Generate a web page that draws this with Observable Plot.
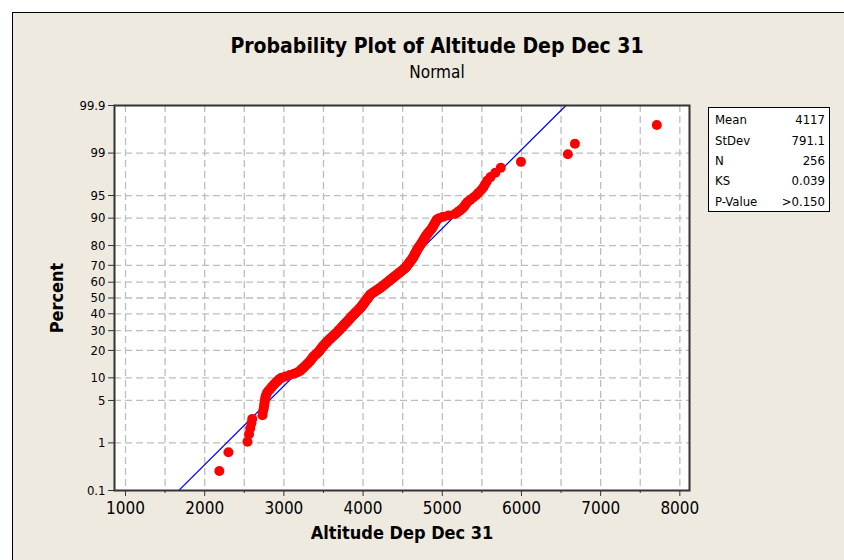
<!DOCTYPE html>
<html><head><meta charset="utf-8">
<script src="https://cdn.jsdelivr.net/npm/d3@7"></script>
<script src="https://cdn.jsdelivr.net/npm/@observablehq/plot@0.6"></script>
<style>
html,body{margin:0;padding:0;background:#fff;overflow:hidden;width:844px;height:560px;}
#bg{position:absolute;left:12px;top:12px;width:840px;height:560px;background:#EEEAE0;border-left:1.5px solid #000;border-top:1.5px solid #000;}
#chart{position:absolute;left:0;top:0;}
#stats{position:absolute;left:708px;top:107px;width:120px;height:103px;background:#fff;border:1px solid #000;font-family:"DejaVu Sans Condensed",sans-serif;font-size:13px;color:#000;}
#stats table{border-collapse:collapse;width:100%;margin-top:2px;}
#stats td{padding:0 4px 0 6px;height:20.4px;line-height:20px;}
#stats td.v{text-align:right;}
</style></head><body>
<div id="bg"></div>
<div id="chart"></div>
<div id="stats"></div>
<script>
// Sorted sample values (ranks 1..256)
const altitude = [
2185,2300,2540,2560,2575,2590,2600,2730,2735,2745,2750,2755,2760,2765,2770,2780,2790,2810,2830,2850,2865,2885,2905,2925,2943,2970,3021,3074,3126,3166,
3200,3215,3230,3245,3260,3274,3288,3302,3316,3330,
3339,3348,3357,3366,3375,3388,3401,3414,3427,3440,
3448,3456,3464,3472,3480,3489,3498,3507,3516,3525,
3535,3545,3555,3565,3575,3585,3595,3605,3615,3625,
3634,3644,3653,3663,3672,3681,3689,3698,3706,3715,
3722,3730,3737,3745,3752,3761,3769,3778,3786,3795,
3802,3810,3817,3825,3832,3838,3845,3852,3861,3869,
3877,3885,3893,3900,3908,3916,3924,3932,3940,3948,
3956,3963,3970,3976,3982,3988,3994,4000,4006,4011,
4017,4023,4029,4035,4040,4046,4052,4058,4064,4070,
4075,4081,4086,4092,4100,4112,4124,4135,4147,4159,
4171,4183,4194,4206,4217,4228,4238,4247,4257,4267,
4276,4286,4297,4307,4317,4327,4337,4347,4356,4366,
4376,4387,4397,4407,4417,4428,4438,4449,4458,4469,
4480,4491,4501,4511,4522,4533,4541,4547,4553,4560,
4566,4573,4580,4587,4593,4600,4607,4614,4621,4628,
4633,4638,4644,4649,4654,4660,4665,4670,4676,4681,
4687,4693,4700,4707,4714,4722,4729,4737,4744,4752,
4759,4766,4773,4780,4788,4795,4805,4814,4825,4836,
4847,4859,4870,4879,4886,4895,4904,4913,4922,4931,
4960,5010,5080,5160,5191,5218,5245,5268,5284,5301,
5322,5356,5392,5428,5457,5489,5519,5541,5566,5609,
5670,5739,5994,6586,6675,7709];

const statLabels = ["Mean","StDev","N","KS","P-Value"];
const statValues = ["4117","791.1","256","0.039",">0.150"];
const fitMean = 4117, fitStDev = 791.1;
const percentTicks = [0.1,1,5,10,20,30,40,50,60,70,80,90,95,99,99.9];
const percentLabels = ["0.1","1","5","10","20","30","40","50","60","70","80","90","95","99","99.9"];
const xTicks = [1000,2000,3000,4000,5000,6000,7000,8000];
const xMinor = [1500,2500,3500,4500,5500,6500,7500];
const xGrid = [1000,1500,2000,2500,3000,3500,4000,4500,5000,5500,6000,6500,7000,7500,8000];
const titleText = "Probability Plot of Altitude Dep Dec 31";
const subtitleText = "Normal";
const xLabel = "Altitude Dep Dec 31";
const yLabel = "Percent";

// inverse standard normal CDF (Acklam)
function probit(p){
  const a=[-3.969683028665376e+01,2.209460984245205e+02,-2.759285104469687e+02,1.383577518672690e+02,-3.066479806614716e+01,2.506628277459239e+00];
  const b=[-5.447609879822406e+01,1.615858368580409e+02,-1.556989798598866e+02,6.680131188771972e+01,-1.328068155288572e+01];
  const c=[-7.784894002430293e-03,-3.223964580411365e-01,-2.400758277161838e+00,-2.549732539343734e+00,4.374664141464968e+00,2.938163982698783e+00];
  const d=[7.784695709041462e-03,3.224671290700398e-01,2.445134137142996e+00,3.754408661907416e+00];
  const pl=0.02425, ph=1-pl; let q,r;
  if(p<pl){q=Math.sqrt(-2*Math.log(p));return (((((c[0]*q+c[1])*q+c[2])*q+c[3])*q+c[4])*q+c[5])/((((d[0]*q+d[1])*q+d[2])*q+d[3])*q+1);}
  if(p<=ph){q=p-0.5;r=q*q;return (((((a[0]*r+a[1])*r+a[2])*r+a[3])*r+a[4])*r+a[5])*q/(((((b[0]*r+b[1])*r+b[2])*r+b[3])*r+b[4])*r+1);}
  q=Math.sqrt(-2*Math.log(1-p));return -(((((c[0]*q+c[1])*q+c[2])*q+c[3])*q+c[4])*q+c[5])/((((d[0]*q+d[1])*q+d[2])*q+d[3])*q+1);
}

const n = altitude.length;
const points = altitude.map((v,i)=>({x:v, z:probit((i+1-0.3)/(n+0.4))}));
const zLo = probit(0.001), zHi = probit(0.999);
const fit = [{x:fitMean+fitStDev*zLo, z:zLo},{x:fitMean+fitStDev*zHi, z:zHi}];
const zTicks = percentTicks.map(p=>probit(p/100));
const zGrid = zTicks.slice(1,-1);

const FONT = "DejaVu Sans Condensed, sans-serif";
const gridStyle = {stroke:"#bdbdbd", strokeOpacity:1, strokeWidth:1.3, strokeDasharray:"7,4"};

const chart = Plot.plot({
  width:844, height:560,
  marginLeft:114, marginRight:155, marginTop:105, marginBottom:70,
  style:{background:"transparent", fontFamily:FONT, color:"#000", overflow:"visible"},
  x:{domain:[861,8122]},
  y:{domain:[zLo,zHi]},
  marks:[
    Plot.frame({fill:"#fff", stroke:null}),
    Plot.gridX(xGrid, gridStyle),
    Plot.gridY(zGrid, gridStyle),
    Plot.line(fit, {x:"x", y:"z", stroke:"#0000ff", strokeWidth:1.2, clip:true}),
    Plot.dot(points, {x:"x", y:"z", r:5, fill:"#ff0000", stroke:null}),
    Plot.frame({stroke:"#333", strokeWidth:2}),
    Plot.axisX(xTicks, {tickSize:6, tickPadding:5, fontSize:17, tickFormat:d=>String(d), label:null, stroke:"#333"}),
    Plot.axisX(xMinor, {tickSize:3, tickFormat:()=>"", label:null, stroke:"#333"}),
    Plot.axisY(zTicks, {tickSize:6, tickPadding:3, fontSize:13, tickFormat:(d,i)=>percentLabels[i], label:null, stroke:"#333"}),
    Plot.text([titleText], {text:d=>d, frameAnchor:"top", lineAnchor:"middle", dx:35, dy:-59, fontSize:21, fontWeight:"bold", fill:"#000"}),
    Plot.text([subtitleText], {text:d=>d, frameAnchor:"top", lineAnchor:"middle", dx:35, dy:-33, fontSize:17, fill:"#000"}),
    Plot.text([xLabel], {text:d=>d, frameAnchor:"bottom", lineAnchor:"middle", dy:43, fontSize:18, fontWeight:"bold", fill:"#000"}),
    Plot.text([yLabel], {text:d=>d, frameAnchor:"left", textAnchor:"middle", lineAnchor:"middle", dx:-57, rotate:-90, fontSize:18, fontWeight:"bold", fill:"#000"})
  ]
});
document.getElementById("chart").appendChild(chart);

const rows = statLabels.map((l,i)=>`<tr><td>${l}</td><td class="v">${statValues[i]}</td></tr>`).join("");
document.getElementById("stats").innerHTML = `<table>${rows}</table>`;
</script>
</body></html>
